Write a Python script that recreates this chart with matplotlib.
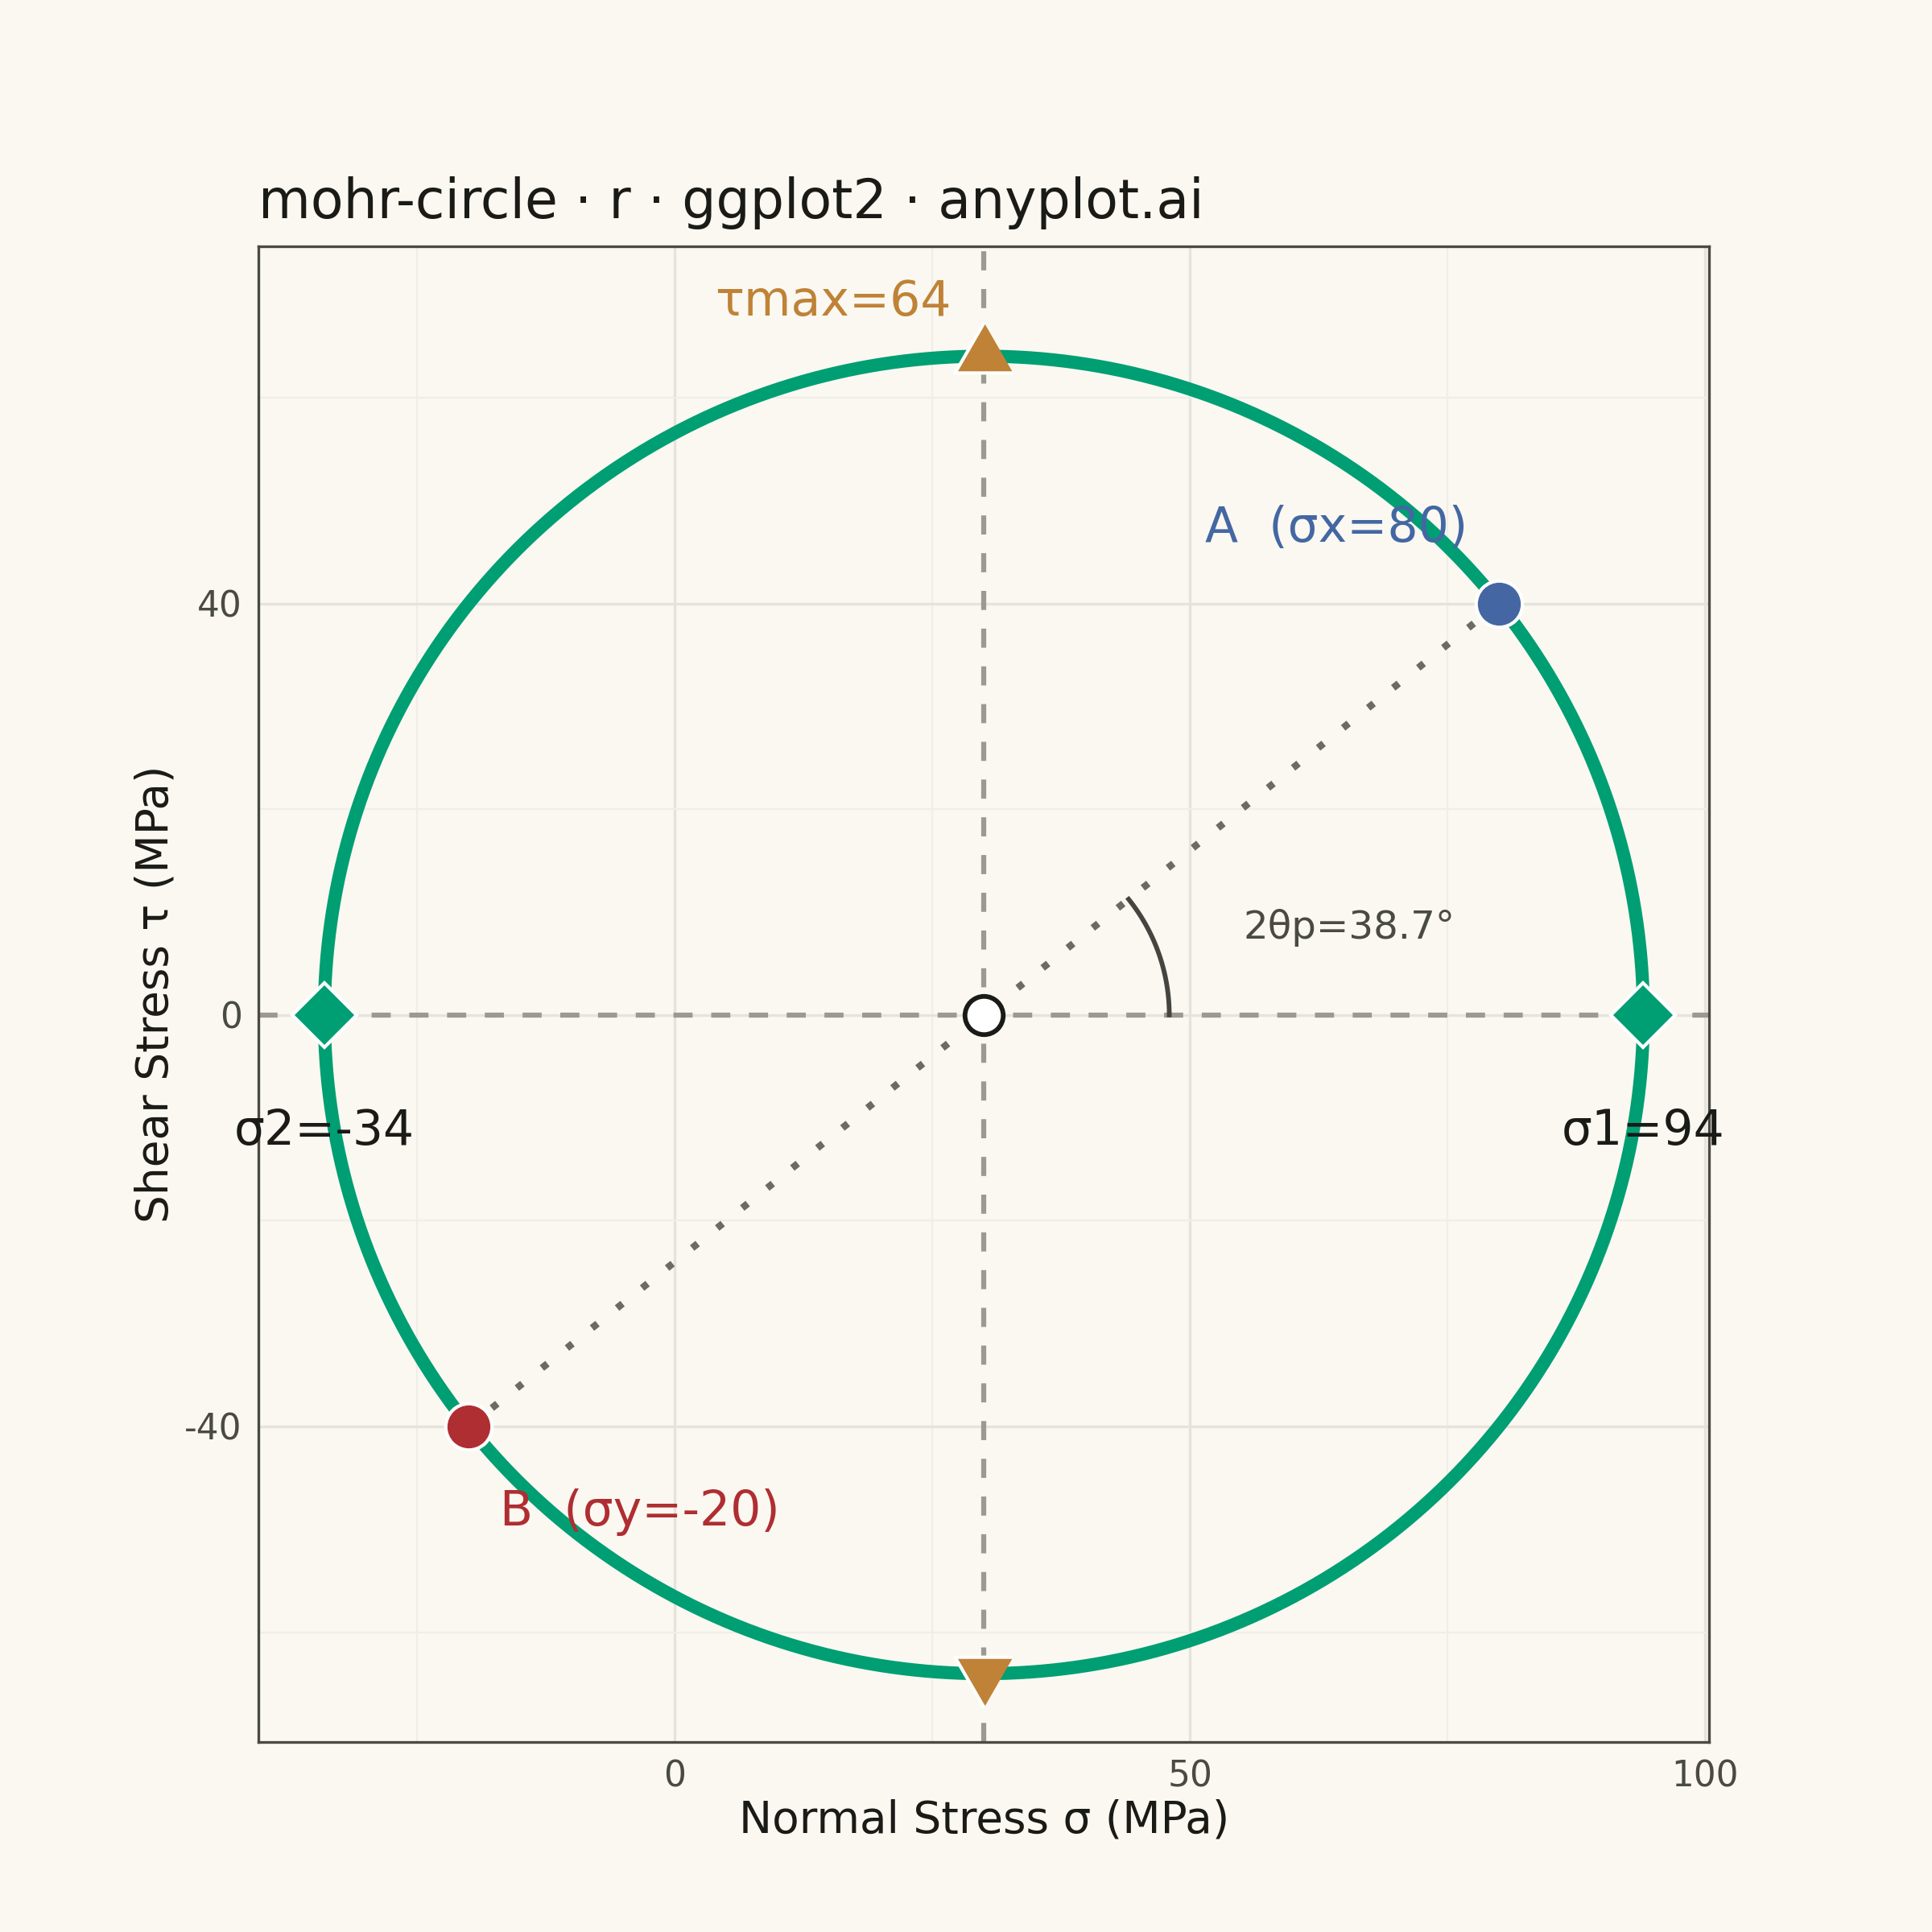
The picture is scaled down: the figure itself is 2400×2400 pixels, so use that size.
import numpy as np
import matplotlib
matplotlib.use("Agg")
import matplotlib.pyplot as plt
from matplotlib.ticker import FixedLocator

# ---- data (stress state) ----
sigma_x = 80.0
sigma_y = -20.0
tau_xy = 40.0

x_ticks = [0, 50, 100]
y_ticks = [-40, 0, 40]
x_minor = [-25, 25, 75]
y_minor = [-60, -20, 20, 60]

center = (sigma_x + sigma_y) / 2
radius = np.hypot((sigma_x - sigma_y) / 2, tau_xy)
sigma_1 = center + radius
sigma_2 = center - radius
two_theta_p = np.degrees(np.arctan2(tau_xy, (sigma_x - sigma_y) / 2))
arc_r = 18.0

BG = "#FAF8F1"
GREEN = "#009E73"
BLUE = "#4467A3"
RED = "#AF2E31"
ORANGE = "#BF8236"
INK = "#1A1A17"
SOFT = "#4A4A45"

plt.rcParams["font.family"] = ["DejaVu Sans"]
plt.rcParams["axes.unicode_minus"] = False

fig = plt.figure(figsize=(8, 8), dpi=300, facecolor=BG)
ax = fig.add_axes([210 / 1568, 1 - 1414 / 1568, 1177 / 1568, 1214 / 1568])
ax.set_facecolor(BG)

ax.set_xlim(-40.4, 100.4)
ax.set_ylim(-70.7, 74.7)

ax.xaxis.set_major_locator(FixedLocator(x_ticks))
ax.yaxis.set_major_locator(FixedLocator(y_ticks))
ax.xaxis.set_minor_locator(FixedLocator(x_minor))
ax.yaxis.set_minor_locator(FixedLocator(y_minor))
ax.grid(which="major", color="#E4E3DC", linewidth=0.8, zorder=0)
ax.grid(which="minor", color="#EFEEE8", linewidth=0.55, zorder=0)
ax.set_axisbelow(True)
ax.tick_params(which="both", length=0)
ax.tick_params(axis="both", labelsize=10.5, labelcolor=SOFT, pad=5)
for s in ax.spines.values():
    s.set_color(SOFT)
    s.set_linewidth(0.8)

# reference dashed axes through centre
ax.axhline(0, color="#9A9A92", linewidth=1.5, linestyle=(0, (3.8, 3.7)), zorder=1)
ax.axvline(center, color="#9A9A92", linewidth=1.5, linestyle=(0, (3.8, 3.7)), zorder=1)

# dotted diameter A-B
ax.plot([sigma_x, sigma_y], [tau_xy, -tau_xy], color="#6B6B65", linewidth=2.1,
        linestyle=(0, (1, 3.55)), zorder=2)

# Mohr circle
t = np.linspace(0, 2 * np.pi, 721)
ax.plot(center + radius * np.cos(t), radius * np.sin(t), color=GREEN,
        linewidth=3.9, zorder=3, solid_capstyle="round")

# angle arc
a = np.radians(np.linspace(0, two_theta_p, 100))
ax.plot(center + arc_r * np.cos(a), arc_r * np.sin(a), color="#444440",
        linewidth=1.4, zorder=3)

# markers
ax.plot([center], [0], marker="o", ms=11.4, mfc="white", mec=INK, mew=1.4,
        linestyle="none", zorder=5)
ax.plot([sigma_x], [tau_xy], marker="o", ms=13.8, mfc=BLUE, mec="white", mew=1.0,
        linestyle="none", zorder=5)
ax.plot([sigma_y], [-tau_xy], marker="o", ms=13.8, mfc=RED, mec="white", mew=1.0,
        linestyle="none", zorder=5)
ax.plot([sigma_1, sigma_2], [0, 0], marker="D", ms=13.5, mfc=GREEN, mec="white",
        mew=1.0, linestyle="none", zorder=5)
h = np.sqrt(3) / 2
tri_up = [(0, 2 * h / 3), (-0.5, -h / 3), (0.5, -h / 3)]
tri_dn = [(0, -2 * h / 3), (-0.5, h / 3), (0.5, h / 3)]
ax.plot([center], [radius], marker=tri_up, ms=20, mfc=ORANGE, mec="white",
        mew=1.0, linestyle="none", zorder=5)
ax.plot([center], [-radius], marker=tri_dn, ms=20, mfc=ORANGE, mec="white",
        mew=1.0, linestyle="none", zorder=5)

# labels
fs = 14.4
ax.text(64.2, 46.0, f"A  (σx={sigma_x:.0f})", color=BLUE, fontsize=fs,
        ha="center", va="baseline", zorder=6)
ax.text(-3.4, -49.6, f"B  (σy={sigma_y:.0f})", color=RED, fontsize=fs,
        ha="center", va="baseline", zorder=6)
ax.text(sigma_1, -12.6, f"σ1={sigma_1:.0f}", color=INK, fontsize=fs,
        ha="center", va="baseline", zorder=6)
ax.text(sigma_2, -12.6, f"σ2={sigma_2:.0f}", color=INK, fontsize=fs,
        ha="center", va="baseline", zorder=6)
ax.text(26.8, 68.0, f"τmax={radius:.0f}", color=ORANGE, fontsize=fs,
        ha="right", va="baseline", zorder=6)
ax.text(65.5, 7.4, f"2θp={two_theta_p:.1f}°", color="#4A4A45", fontsize=11.6,
        ha="center", va="baseline", zorder=6)

ax.set_xlabel("Normal Stress σ (MPa)", fontsize=13.2, color=INK, labelpad=1.5)
ax.set_ylabel("Shear Stress τ (MPa)", fontsize=13.2, color=INK, labelpad=2)

fig.text(210 / 1568, 1 - 177 / 1568, "mohr-circle · r · ggplot2 · anyplot.ai",
         fontsize=16, color=INK, ha="left", va="baseline")

fig.savefig("out.png", dpi=300, facecolor=BG)
